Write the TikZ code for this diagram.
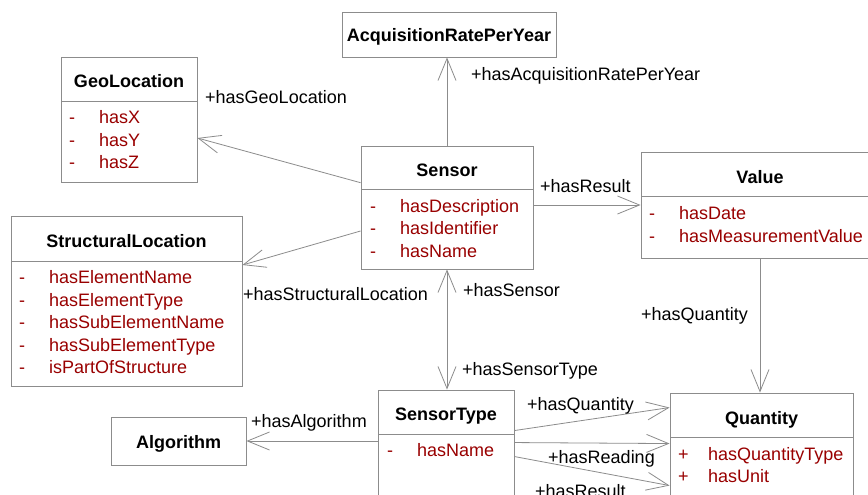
\documentclass[tikz,border=0pt]{standalone}
\usepackage{fontspec}
\setmainfont{Liberation Sans}
\usetikzlibrary{arrows.meta}
\definecolor{attr}{RGB}{153,0,0}
\definecolor{frame}{RGB}{140,140,140}
\definecolor{link}{RGB}{140,140,140}

\begin{document}
\begin{tikzpicture}[x=1pt,y=-1pt,
  font=\fontsize{18}{22}\selectfont,
  classbox/.style={draw=frame, line width=0.9pt, rectangle, inner sep=0pt},
  divider/.style={draw=frame, line width=0.9pt},
  title/.style={font=\fontsize{18}{22}\selectfont\bfseries, anchor=base, inner sep=0pt},
  attrtext/.style={text=attr, anchor=base west, inner sep=0pt},
  role/.style={anchor=base west, inner sep=0pt},
  barb/.style={Straight Barb[length=22pt,width=18pt]},
  assoc/.style={draw=link, line width=0.8pt, -{Straight Barb[length=22pt,width=18pt]}},
  biassoc/.style={draw=link, line width=0.8pt, {Straight Barb[length=22pt,width=18pt]}-{Straight Barb[length=22pt,width=18pt]}},
]
\useasboundingbox (0,0) rectangle (868,495);
\clip (0,0) rectangle (868,495);
\fill[white] (0,0) rectangle (868,495);

% ---------- classes ----------
% AcquisitionRatePerYear
\node[classbox, minimum width=214pt, minimum height=45pt] (acq) at (449,34.5) {};
\node[title] (acqT) at (449,41.5) {AcquisitionRatePerYear};

% GeoLocation
\node[classbox, minimum width=136pt, minimum height=125pt] (geo) at (129,119.5) {};
\draw[divider] (61,101) -- (197,101);
\node[title] (geoT) at (129,88) {GeoLocation};
\node[attrtext] (geoM1) at (69,124) {-};
\node[attrtext] (geoA1) at (99,124) {hasX};
\node[attrtext] (geoM2) at (69,146.4) {-};
\node[attrtext] (geoA2) at (99,146.4) {hasY};
\node[attrtext] (geoM3) at (69,168.8) {-};
\node[attrtext] (geoA3) at (99,168.8) {hasZ};

% Sensor
\node[classbox, minimum width=172pt, minimum height=123pt] (sensor) at (447,207.5) {};
\draw[divider] (361,189) -- (533,189);
\node[title] (sensorT) at (447,176) {Sensor};
\node[attrtext] (senM1) at (370,212.5) {-};
\node[attrtext] (senA1) at (400,212.5) {hasDescription};
\node[attrtext] (senM2) at (370,234.9) {-};
\node[attrtext] (senA2) at (400,234.9) {hasIdentifier};
\node[attrtext] (senM3) at (370,257.3) {-};
\node[attrtext] (senA3) at (400,257.3) {hasName};

% StructuralLocation
\node[classbox, minimum width=231pt, minimum height=170pt] (sloc) at (126.5,301) {};
\draw[divider] (11,261) -- (242,261);
\node[title] (slocT) at (126.5,247) {StructuralLocation};
\node[attrtext] (slM1) at (19,283.5) {-};
\node[attrtext] (slA1) at (49,283.5) {hasElementName};
\node[attrtext] (slM2) at (19,306) {-};
\node[attrtext] (slA2) at (49,306) {hasElementType};
\node[attrtext] (slM3) at (19,328.5) {-};
\node[attrtext] (slA3) at (49,328.5) {hasSubElementName};
\node[attrtext] (slM4) at (19,351) {-};
\node[attrtext] (slA4) at (49,351) {hasSubElementType};
\node[attrtext] (slM5) at (19,373.5) {-};
\node[attrtext] (slA5) at (49,373.5) {isPartOfStructure};

% Value
\node[classbox, minimum width=238pt, minimum height=106pt] (value) at (760,205) {};
\draw[divider] (641,196) -- (879,196);
\node[title] (valueT) at (760,183) {Value};
\node[attrtext] (valM1) at (649,219.5) {-};
\node[attrtext] (valA1) at (679,219.5) {hasDate};
\node[attrtext] (valM2) at (649,242) {-};
\node[attrtext] (valA2) at (679,242) {hasMeasurementValue};

% Algorithm
\node[classbox, minimum width=135pt, minimum height=48pt] (alg) at (178.5,441) {};
\node[title] (algT) at (178.5,448) {Algorithm};

% SensorType
\node[classbox, minimum width=136pt, minimum height=140pt] (stype) at (446,460) {};
\draw[divider] (378,434) -- (514,434);
\node[title] (stypeT) at (446,420) {SensorType};
\node[attrtext] (stM1) at (387,456.5) {-};
\node[attrtext] (stA1) at (417,456.5) {hasName};

% Quantity
\node[classbox, minimum width=183pt, minimum height=137pt] (quant) at (761.5,461.5) {};
\draw[divider] (670,437) -- (853,437);
\node[title] (quantT) at (761.5,424) {Quantity};
\node[attrtext] (quM1) at (678,460) {+};
\node[attrtext] (quA1) at (708,460) {hasQuantityType};
\node[attrtext] (quM2) at (678,482) {+};
\node[attrtext] (quA2) at (708,482) {hasUnit};

% ---------- associations ----------
\draw[assoc] (sensor.north) -- (sensor.north |- acq.south);
\draw[assoc] ([yshift=24.8pt]sensor.west) -- ([yshift=-18.5pt]geo.east);
\draw[assoc] ([yshift=-23.5pt]sensor.west) -- ([yshift=36pt]sloc.east);
\draw[assoc] (sensor.east |- value.west) -- (value.west);
\draw[biassoc] (sensor.south) -- (sensor.south |- stype.north);
\draw[assoc] (value.south) -- (value.south |- quant.north);
\draw[assoc] (stype.west |- alg.east) -- (alg.east);
\draw[assoc] ([yshift=-41pt]stype.north east) -- ([yshift=-15pt]quant.north west);
\draw[assoc] ([yshift=-53pt]stype.north east) -- ([yshift=-51pt]quant.north west);
\draw[assoc] ([yshift=-67pt]stype.north east) -- ([yshift=-93pt]quant.north west);

% ---------- role names ----------
\node[role] (rAcq) at (471,81) {+hasAcquisitionRatePerYear};
\node[role] (rGeo) at (205,103) {+hasGeoLocation};
\node[role] (rRes) at (540,192.5) {+hasResult};
\node[role] (rSloc) at (243,300) {+hasStructuralLocation};
\node[role] (rSen) at (463,296.5) {+hasSensor};
\node[role] (rQv) at (641,320.5) {+hasQuantity};
\node[role] (rSt) at (462,375) {+hasSensorType};
\node[role] (rAlg) at (251,427.5) {+hasAlgorithm};
\node[role] (rQs) at (527,410) {+hasQuantity};
\node[role] (rRead) at (548,463.5) {+hasReading};
\node[role] (rRes2) at (535,497) {+hasResult};
\end{tikzpicture}
\end{document}
